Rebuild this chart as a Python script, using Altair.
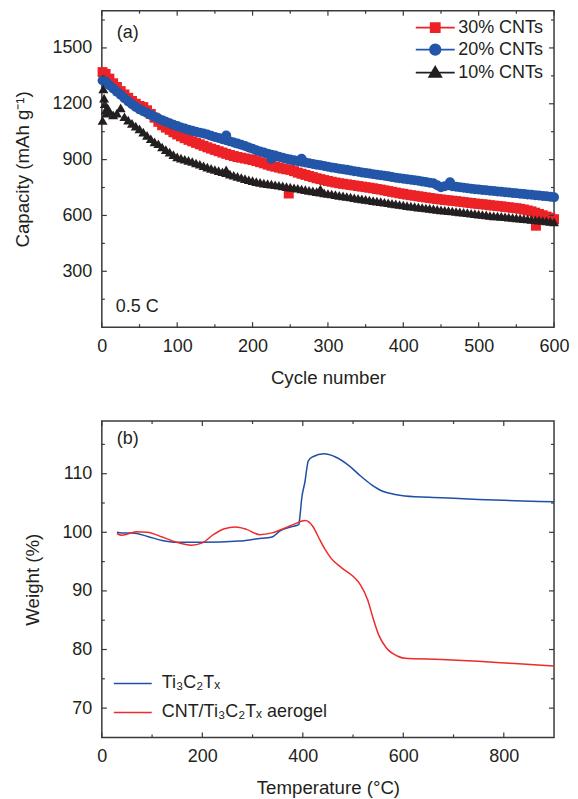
import altair as alt
import pandas as pd

FONT = "Liberation Sans"
INK = "#231f20"
FRAME = "#3a3a3a"

# ---------------- Panel (a): cycling capacity ----------------
series_a = ["30% CNTs", "20% CNTs", "10% CNTs"]
colors_a = ["#ec2227", "#2356a8", "#231f20"]
shapes_a = ["square", "circle", "triangle-up"]

# cycle numbers read at 1, 5, 10, ..., 600
cycles = [1] + list(range(5, 601, 5))

cap30 = [1370,
         1360, 1335, 1310, 1290, 1268, 1250, 1232, 1215, 1200, 1188,
         1182, 1165, 1145, 1125, 1103, 1085, 1072, 1060, 1047, 1035,
         1025, 1015, 1006, 998, 990, 982, 974, 966, 959, 952,
         945, 938, 931, 925, 919, 914, 910, 906, 902, 898,
         892, 886, 880, 873, 867, 862, 857, 852, 848, 845,
         838, 830, 824, 818, 812, 806, 800, 795, 790, 785,
         781, 777, 773, 770, 767, 764, 761, 758, 755, 752,
         749, 746, 742, 739, 735, 731, 727, 723, 719, 716,
         712, 709, 706, 703, 700, 697, 694, 691, 688, 686,
         683, 681, 679, 677, 674, 672, 669, 667, 664, 662,
         660, 658, 655, 653, 651, 649, 646, 644, 641, 639,
         636, 632, 627, 622, 615, 608, 601, 594, 588, 580]
extra30_c = [248, 576]
extra30_v = [718, 545]

cap20 = [1325,
         1318, 1300, 1282, 1265, 1248, 1230, 1213, 1197, 1183, 1170,
         1160, 1150, 1140, 1130, 1121, 1112, 1103, 1095, 1087, 1080,
         1073, 1067, 1061, 1055, 1050, 1045, 1040, 1035, 1028, 1022,
         1016, 1010, 1004, 998, 992, 986, 980, 973, 965, 958,
         950, 944, 938, 932, 926, 922, 915, 910, 905, 900,
         896, 892, 888, 884, 880, 877, 873, 870, 866, 862,
         858, 855, 851, 848, 845, 842, 838, 835, 831, 828,
         825, 822, 819, 816, 813, 810, 806, 803, 800, 797,
         794, 792, 789, 786, 783, 780, 776, 773, 762, 752,
         757, 762, 757, 754, 751, 749, 746, 744, 741, 739,
         737, 735, 733, 731, 729, 727, 725, 723, 721, 719,
         717, 715, 713, 711, 709, 707, 705, 703, 701, 698]
extra20_c = [165, 225, 265, 462]
extra20_v = [1030, 905, 905, 778]

cap10 = [1110,
         1165, 1160, 1140, 1150, 1178, 1130, 1112, 1095, 1080, 1065,
         1048, 1030, 1012, 995, 985, 968, 954, 940, 927, 915,
         908, 902, 896, 890, 882, 875, 867, 860, 853, 847,
         841, 835, 830, 822, 816, 810, 804, 798, 792, 787,
         782, 778, 774, 771, 768, 765, 762, 759, 755, 752,
         749, 746, 742, 739, 735, 732, 728, 725, 721, 718,
         715, 712, 708, 705, 702, 699, 695, 692, 689, 686,
         683, 680, 677, 674, 671, 668, 665, 662, 659, 656,
         653, 650, 648, 645, 643, 640, 638, 635, 633, 630,
         628, 626, 624, 621, 619, 617, 615, 612, 610, 607,
         605, 603, 600, 598, 597, 595, 593, 591, 589, 587,
         585, 583, 581, 579, 577, 575, 573, 571, 568, 565]
extra10_c = [2, 3, 4, 6, 8, 165, 290]
extra10_v = [1280, 1230, 1200, 1150, 1175, 845, 742]

xa_major = [0, 100, 200, 300, 400, 500, 600]
xa_minor = [50, 150, 250, 350, 450, 550]
ya_major = [300, 600, 900, 1200, 1500]
ya_minor = [150, 450, 750, 1050, 1350, 1650]

# ---------------- Panel (b): TGA ----------------
series_b = ["Ti\u2083C\u2082T\u2093", "CNT/Ti\u2083C\u2082T\u2093 aerogel"]
colors_b = ["#1f4fa6", "#ee2a2a"]

temp_ti = [30, 40, 61, 91, 120, 149, 200, 273, 310, 339, 354, 376, 392, 394, 398, 404, 411, 420,
           442, 464, 493, 515, 537, 559, 581, 603, 676, 749, 822, 900]
w_ti = [100.0, 99.9, 99.9, 99.3, 98.6, 98.3, 98.3, 98.5, 98.9, 99.2, 100.2, 100.9, 101.3, 102.5,
        105.9, 108.5, 112.2, 112.9, 113.4, 112.9, 111.3, 109.6, 108.1, 107.0, 106.5, 106.2, 105.9,
        105.6, 105.4, 105.2]

temp_cnt = [30, 40, 69, 91, 120, 149, 178, 200, 222, 244, 266, 288, 314, 339, 361, 383, 405, 420,
            434, 445, 456, 478, 500, 515, 529, 540, 551, 566, 588, 603, 676, 749, 822, 900]
w_cnt = [99.8, 99.5, 100.1, 100.0, 99.2, 98.3, 97.8, 98.2, 99.6, 100.6, 100.9, 100.5, 99.6, 99.9,
         100.6, 101.4, 102.0, 101.0, 98.7, 97.0, 95.6, 93.9, 92.5, 91.0, 88.5, 85.3, 82.5, 80.3,
         78.9, 78.5, 78.3, 78.0, 77.6, 77.2]

xb_major = [0, 200, 400, 600, 800]
xb_minor = [100, 300, 500, 700]
yb_major = [70, 80, 90, 100, 110]
yb_minor = [75, 85, 95, 105, 115]

W, H = 453, 317
TITLE_SIZE = 18.7


def tick_layers(xscale, yscale, xmaj, xmin, ymaj, ymin):
    layers = []
    for vals, L in [(xmaj, 5), (xmin, 3)]:
        base = alt.Chart(pd.DataFrame({"tx": vals})).mark_rule(color=FRAME, strokeWidth=1.2)
        xe = alt.X("tx:Q", scale=xscale)
        layers.append(base.encode(x=xe, y=alt.value(H), y2=alt.value(H - L)))
        layers.append(base.encode(x=xe, y=alt.value(0), y2=alt.value(L)))
    for vals, L in [(ymaj, 5), (ymin, 3)]:
        base = alt.Chart(pd.DataFrame({"ty": vals})).mark_rule(color=FRAME, strokeWidth=1.2)
        ye = alt.Y("ty:Q", scale=yscale)
        layers.append(base.encode(y=ye, x=alt.value(0), x2=alt.value(L)))
        layers.append(base.encode(y=ye, x=alt.value(W), x2=alt.value(W - L)))
    return layers


def label_layer(text, x, y):
    return alt.Chart(pd.DataFrame({"t": [text]})).mark_text(
        align="left", baseline="middle", fontSize=18, font=FONT, color=INK
    ).encode(text="t:N", x=alt.value(x), y=alt.value(y))


# ----- panel (a) chart -----
xs_a = alt.Scale(domain=[0, 600], nice=False, zero=False)
ys_a = alt.Scale(domain=[0, 1700], nice=False)

series_layers = []
data_a = [(cap30, extra30_c, extra30_v), (cap20, extra20_c, extra20_v), (cap10, extra10_c, extra10_v)]
for i, (vals, ec, ev) in enumerate(data_a):
    df_i = pd.DataFrame({"cycle": cycles + ec, "capacity": vals + ev})
    if i == 0:
        xe = alt.X("cycle:Q", scale=xs_a,
                   axis=alt.Axis(title="Cycle number", values=xa_major, format="d",
                                 titlePadding=13))
        ye = alt.Y("capacity:Q", scale=ys_a,
                   axis=alt.Axis(title="Capacity (mAh g\u207b\u00b9)", values=ya_major,
                                 format="d", titlePadding=19))
    else:
        xe = alt.X("cycle:Q", scale=xs_a)
        ye = alt.Y("capacity:Q", scale=ys_a)
    series_layers.append(
        alt.Chart(df_i).mark_point(filled=True, opacity=1, size=100, shape=shapes_a[i],
                                   color=colors_a[i]).encode(x=xe, y=ye)
    )

hl = 3.9
legend_paths = [
    f"M-{hl},0H{hl}M-0.9,-0.9H0.9V0.9H-0.9Z",
    f"M-{hl},0H{hl}M1.05,0A1.05,1.05,0,1,1,-1.05,0A1.05,1.05,0,1,1,1.05,0Z",
    f"M-{hl},0H{hl}M0,-1.15L1.2,0.85H-1.2Z",
]
leg_a = alt.Legend(
    title=None, orient="none", legendX=316, legendY=8,
    labelFontSize=18, labelFont=FONT, labelColor=INK,
    symbolSize=100, symbolStrokeWidth=1.8, symbolOpacity=1,
    symbolOffset=9, labelOffset=14, rowPadding=4, padding=0,
)
legend_a = alt.Chart(pd.DataFrame({"series": series_a})).mark_point(
    filled=True, opacity=0
).encode(
    fill=alt.Fill("series:N", scale=alt.Scale(domain=series_a, range=colors_a), legend=leg_a),
    stroke=alt.Stroke("series:N", scale=alt.Scale(domain=series_a, range=colors_a), legend=leg_a),
    shape=alt.Shape("series:N", scale=alt.Scale(domain=series_a, range=legend_paths), legend=leg_a),
)

panel_a = alt.layer(
    *series_layers,
    *tick_layers(xs_a, ys_a, xa_major, xa_minor, ya_major, ya_minor),
    legend_a,
    label_layer("(a)", 15, 22),
    label_layer("0.5 C", 14, 297),
).properties(width=W, height=H)

# ----- panel (b) chart -----
df_b = pd.concat([
    pd.DataFrame({"temp": temp_ti, "weight": w_ti, "sample": series_b[0]}),
    pd.DataFrame({"temp": temp_cnt, "weight": w_cnt, "sample": series_b[1]}),
], ignore_index=True)

xs_b = alt.Scale(domain=[0, 900], nice=False, zero=False)
ys_b = alt.Scale(domain=[65, 119], nice=False, zero=False)

lines = alt.Chart(df_b).mark_line(strokeWidth=1.5, interpolate="monotone").encode(
    x=alt.X("temp:Q", scale=xs_b,
            axis=alt.Axis(title="Temperature (\u00b0C)", values=xb_major, format="d",
                          titlePadding=13)),
    y=alt.Y("weight:Q", scale=ys_b,
            axis=alt.Axis(title="Weight (%)", values=yb_major, format="d", titlePadding=19)),
    color=alt.Color("sample:N", scale=alt.Scale(domain=series_b, range=colors_b),
                    legend=alt.Legend(
                        title=None, orient="none", legendX=13, legendY=254,
                        labelFontSize=18, labelFont=FONT, labelColor=INK, labelLimit=400,
                        symbolType="M-3.8,0H3.8", symbolSize=100, symbolStrokeWidth=1.5,
                        symbolOffset=9, labelOffset=20, rowPadding=11, padding=0)),
)

panel_b = alt.layer(
    lines,
    *tick_layers(xs_b, ys_b, xb_major, xb_minor, yb_major, yb_minor),
    label_layer("(b)", 15, 18),
).properties(width=W, height=H)

chart = alt.vconcat(panel_a, panel_b, spacing=31).resolve_scale(
    x="independent", y="independent", color="independent",
    fill="independent", stroke="independent", shape="independent"
).resolve_legend(
    color="independent", fill="independent", stroke="independent", shape="independent"
).properties(
    padding={"left": 5, "top": 0, "right": 0, "bottom": 0}
).configure(font=FONT).configure_view(
    stroke=FRAME, strokeWidth=1.5
).configure_axis(
    ticks=False, tickSize=0, domain=False, grid=False,
    labelFontSize=18, titleFontSize=TITLE_SIZE, labelFont=FONT, titleFont=FONT,
    labelColor=INK, titleColor=INK, titleFontWeight="normal",
    labelPadding=10, labelFlush=False, labelOverlap=False,
)

chart.save("out.html", embed_options={"renderer": "svg", "actions": False})
